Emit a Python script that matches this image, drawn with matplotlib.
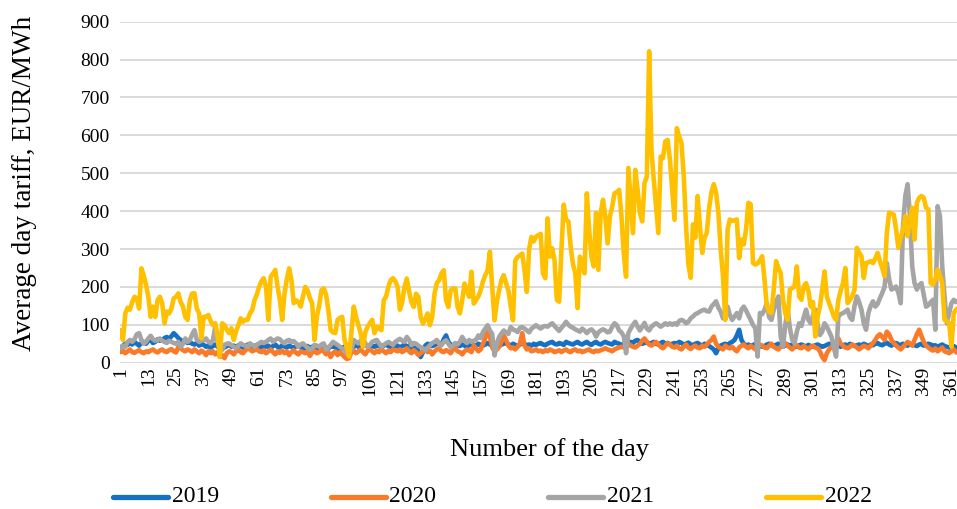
import numpy as np
import matplotlib
matplotlib.use("Agg")
import matplotlib.pyplot as plt
from matplotlib.lines import Line2D

plt.rcParams["font.family"] = ["Liberation Serif", "DejaVu Serif"]

# average day tariff, EUR/MWh, one value per day (rows of 10 days)
y2019 = [
    40, 45, 50, 47, 52, 48, 55, 50, 45, 52,
    55, 50, 58, 60, 52, 55, 62, 58, 60, 65,
    68, 62, 70, 78, 72, 65, 60, 55, 58, 52,
    55, 50, 48, 52, 45, 50, 47, 42, 45, 40,
    44, 48, 42, 38, 45, 40, 44, 48, 42, 45,
    40, 46, 44, 40, 42, 48, 45, 40, 44, 47,
    43, 40, 46, 42, 45, 38, 44, 48, 42, 40,
    46, 43, 40, 45, 42, 38, 44, 47, 42, 36,
    40, 44, 38, 42, 45, 40, 36, 42, 45, 40,
    38, 42, 44, 40, 36, 34, 40, 42, 38, 44,
    40, 42, 46, 42, 38, 44, 47, 43, 40, 45,
    42, 46, 44, 40, 45, 48, 44, 42, 46, 43,
    45, 40, 44, 48, 42, 45, 40, 38, 42, 30,
    15, 28, 45, 50, 48, 44, 46, 50, 52, 48,
    62, 72, 55, 48, 45, 50, 46, 44, 48, 45,
    42, 46, 48, 44, 45, 50, 47, 45, 48, 52,
    48, 45, 50, 46, 44, 48, 50, 52, 48, 45,
    50, 47, 44, 48, 52, 50, 46, 48, 45, 50,
    47, 50, 52, 48, 46, 50, 53, 55, 50, 48,
    52, 50, 47, 55, 52, 50, 48, 52, 55, 50,
    48, 52, 55, 50, 47, 52, 55, 50, 48, 52,
    55, 52, 50, 48, 55, 52, 50, 47, 50, 52,
    50, 55, 52, 58, 60, 55, 50, 52, 55, 50,
    52, 55, 50, 48, 52, 55, 50, 52, 48, 50,
    52, 50, 55, 52, 48, 50, 53, 48, 46, 50,
    52, 48, 45, 50, 47, 44, 40, 35, 25, 38,
    45, 48, 50, 46, 52, 55, 60, 72, 87, 60,
    50, 45, 48, 44, 46, 50, 47, 45, 42, 44,
    48, 50, 46, 44, 47, 50, 45, 42, 46, 48,
    45, 48, 44, 42, 46, 48, 45, 43, 47, 44,
    42, 46, 48, 45, 42, 44, 47, 50, 46, 44,
    48, 45, 42, 46, 48, 45, 50, 47, 44, 46,
    48, 45, 50, 47, 44, 48, 46, 50, 52, 48,
    46, 50, 53, 48, 45, 50, 52, 48, 46, 50,
    47, 45, 50, 48, 46, 44, 48, 50, 45, 47,
    50, 48, 44, 46, 42, 45, 48, 44, 42, 40,
    42, 44, 40, 38, 40,
]

y2020 = [
    28, 32, 25, 30, 35, 28, 26, 30, 33, 28,
    25, 30, 28, 32, 35, 30, 27, 32, 35, 30,
    28, 33, 36, 30, 27, 42, 38, 33, 30, 35,
    32, 28, 35, 30, 25, 32, 28, 20, 30, 25,
    30, 22, 28, 15, 20, 12, 25, 30, 28, 22,
    30, 35, 28, 25, 32, 38, 35, 30, 33, 36,
    30, 28, 33, 25, 30, 35, 28, 22, 30, 26,
    32, 25, 30, 20, 28, 33, 26, 22, 30, 28,
    25, 30, 18, 28, 32, 25, 28, 35, 30, 22,
    28, 15, 25, 30, 20, 28, 22, 15, 10, 12,
    28, 32, 25, 30, 35, 28, 22, 32, 35, 30,
    25, 32, 28, 35, 30, 25, 32, 28, 35, 33,
    30, 35, 28, 32, 38, 30, 25, 33, 28, 20,
    25, 30, 35, 28, 32, 22, 30, 35, 38, 30,
    28, 33, 30, 25, 35, 38, 30, 28, 22, 30,
    35, 32, 28, 45, 38, 30, 35, 50, 65, 95,
    70, 40, 30, 35, 42, 55, 72, 60, 45, 38,
    40, 35, 42, 50, 78, 45, 35, 38, 30, 32,
    35, 30, 32, 28, 33, 30, 35, 32, 28, 30,
    33, 28, 32, 35, 30, 28, 33, 35, 30, 32,
    28, 30, 33, 35, 30, 28, 32, 30, 33, 35,
    38, 35, 33, 30, 35, 38, 40, 42, 40, 45,
    50, 45, 42, 40, 45, 50, 58, 64, 55, 48,
    45, 50, 55, 48, 42, 38, 45, 52, 48, 42,
    40, 45, 38, 35, 42, 48, 40, 36, 42, 45,
    40, 38, 45, 42, 48, 55, 60, 69, 50, 42,
    38, 35, 45, 40, 38, 42, 35, 30, 40, 45,
    48, 42, 38, 45, 40, 35, 42, 48, 45, 40,
    38, 45, 50, 42, 38, 35, 42, 48, 52, 45,
    40, 35, 42, 46, 40, 38, 44, 40, 35, 42,
    45, 40, 38, 30, 15, 7, 25, 35, 42, 48,
    55, 64, 50, 45, 40, 38, 42, 48, 45, 40,
    35, 40, 45, 42, 38, 45, 52, 60, 70, 75,
    68, 60, 82, 75, 60, 52, 45, 40, 35, 42,
    48, 55, 50, 45, 60, 75, 87, 70, 55, 45,
    40, 35, 32, 38, 30, 35, 40, 30, 28, 25,
    30, 35, 28, 25, 30,
]

y2021 = [
    38, 45, 42, 55, 60, 55, 62, 75, 78, 60,
    50, 55, 64, 71, 62, 58, 60, 64, 58, 55,
    52, 58, 55, 52, 50, 55, 42, 50, 64, 55,
    60, 75, 86, 60, 55, 58, 60, 64, 55, 51,
    60, 95, 55, 40, 34, 47, 50, 51, 46, 42,
    38, 45, 51, 47, 45, 42, 51, 47, 42, 47,
    51, 55, 52, 55, 60, 64, 55, 60, 64, 62,
    55, 51, 58, 60, 55, 57, 51, 42, 48, 51,
    45, 40, 34, 38, 47, 45, 42, 48, 51, 34,
    40, 47, 55, 51, 47, 42, 38, 34, 25, 30,
    34, 60, 55, 51, 58, 64, 51, 42, 47, 55,
    58, 60, 51, 42, 47, 51, 55, 51, 47, 55,
    59, 63, 58, 55, 68, 60, 46, 52, 50, 45,
    41, 38, 33, 40, 46, 52, 55, 60, 50, 46,
    55, 59, 50, 41, 45, 52, 48, 55, 68, 58,
    52, 60, 55, 58, 60, 72, 65, 81, 90, 99,
    85, 76, 19, 50, 68, 77, 85, 80, 76, 94,
    88, 85, 81, 92, 94, 90, 85, 80, 90, 94,
    99, 94, 90, 95, 97, 95, 100, 104, 97, 90,
    84, 92, 99, 108, 100, 95, 92, 88, 85, 82,
    90, 85, 78, 85, 88, 82, 69, 80, 85, 88,
    85, 80, 82, 95, 104, 99, 85, 80, 70, 25,
    78, 90, 100, 108, 95, 85, 95, 105, 90, 85,
    95, 100, 104, 100, 95, 99, 104, 100, 104, 100,
    104, 100, 110, 113, 110, 104, 108, 117, 122, 128,
    131, 135, 138, 140, 136, 135, 148, 155, 162, 145,
    135, 117, 130, 148, 125, 113, 122, 131, 117, 140,
    148, 138, 125, 113, 100, 91, 16, 131, 128, 140,
    157, 120, 113, 140, 160, 175, 69, 42, 100, 140,
    91, 60, 51, 82, 104, 97, 120, 140, 113, 104,
    125, 140, 100, 73, 82, 104, 95, 82, 69, 40,
    16, 122, 128, 131, 135, 140, 120, 113, 150, 175,
    160, 140, 104, 87, 131, 150, 162, 148, 155, 170,
    184, 200, 263, 220, 193, 196, 201, 185, 157, 360,
    440, 471, 387, 254, 210, 193, 205, 210, 179, 148,
    152, 160, 166, 87, 413, 387, 254, 175, 104, 130,
    157, 166, 160, 162, 160,
]

y2022 = [
    86, 60, 130, 145, 140, 160, 174, 170, 143, 249,
    230, 205, 174, 121, 148, 121, 165, 174, 157, 104,
    135, 130, 143, 170, 174, 183, 160, 148, 121, 113,
    165, 183, 183, 143, 130, 64, 121, 121, 126, 110,
    99, 104, 69, 16, 104, 99, 86, 78, 91, 60,
    82, 99, 117, 108, 113, 113, 130, 139, 165, 180,
    200, 215, 223, 200, 113, 227, 235, 245, 200, 165,
    113, 183, 220, 249, 218, 157, 165, 160, 148, 175,
    200, 191, 170, 157, 60, 121, 150, 191, 196, 180,
    139, 86, 80, 78, 113, 118, 121, 60, 40, 16,
    80, 148, 121, 100, 78, 42, 80, 95, 105, 113,
    78, 95, 90, 86, 165, 174, 200, 218, 223, 215,
    200, 140, 160, 200, 222, 187, 160, 147, 182, 174,
    121, 103, 115, 130, 99, 121, 182, 210, 218, 235,
    244, 165, 147, 191, 196, 196, 147, 130, 165, 209,
    190, 174, 240, 156, 165, 175, 191, 215, 231, 244,
    293, 200, 112, 160, 191, 218, 231, 210, 191, 150,
    112, 270, 279, 283, 288, 244, 187, 300, 332, 320,
    333, 337, 340, 236, 223, 381, 280, 302, 271, 166,
    161, 300, 417, 377, 373, 306, 260, 236, 144, 280,
    260, 236, 447, 351, 280, 254, 395, 245, 395, 430,
    386, 315, 386, 412, 447, 450, 456, 386, 289, 227,
    514, 430, 342, 509, 456, 395, 373, 474, 491, 822,
    562, 483, 412, 342, 544, 540, 584, 588, 536, 456,
    377, 619, 597, 580, 493, 360, 260, 224, 365, 330,
    440, 360, 290, 330, 343, 409, 450, 471, 449, 396,
    300, 228, 113, 352, 378, 374, 376, 378, 276, 325,
    312, 352, 422, 418, 263, 259, 262, 270, 281, 219,
    148, 135, 131, 193, 268, 250, 237, 166, 130, 113,
    193, 197, 201, 254, 175, 166, 201, 210, 190, 148,
    160, 69, 122, 148, 193, 241, 175, 157, 140, 122,
    113, 166, 190, 210, 250, 157, 166, 175, 193, 303,
    290, 281, 224, 263, 265, 268, 263, 275, 290, 268,
    250, 228, 343, 396, 393, 391, 352, 303, 330, 352,
    387, 334, 375, 409, 325, 422, 435, 440, 435, 409,
    405, 210, 206, 220, 246, 230, 210, 113, 110, 104,
    42, 131, 140, 145, 150,
]

years = ["2019", "2020", "2021", "2022"]
series = [y2019, y2020, y2021, y2022]
colors = ["#1671C4", "#F97B2A", "#A5A5A5", "#FFC000"]
xticks = list(range(1, 366, 12))
yticks = list(range(0, 901, 100))

fig = plt.figure(figsize=(9.57, 5.09), dpi=100)
ax = fig.add_axes([119.5 / 957, 1 - 362.7 / 509, 1 - 119.5 / 957, 341 / 509])

for vals, col, lab in zip(series, colors, years):
    days = np.arange(1, len(vals) + 1)
    ax.plot(days, vals, color=col, lw=3.3, label=lab,
            solid_joinstyle="round", solid_capstyle="round")

ax.set_xlim(0.5, 363.4)
ax.set_ylim(0, 900)
ax.set_yticks(yticks)
ax.set_xticks(xticks)
ax.set_xticklabels([str(t) for t in xticks], rotation=90)
ax.tick_params(axis="both", length=0, labelsize=14)
ax.tick_params(axis="y", pad=7)
ax.tick_params(axis="x", pad=3)
ax.grid(axis="y", color="#D9D9D9", lw=1.4)
ax.set_axisbelow(True)
for s in ax.spines.values():
    s.set_visible(False)

fig.text(25 / 957, 1 - 183 / 509, "Average day tariff, EUR/MWh", rotation=90,
         ha="center", va="center", fontsize=19.5)
fig.text(550 / 957, 1 - 450 / 509, "Number of the day", ha="center",
         va="center", fontsize=19)

# legend along the bottom
leg_y = 1 - 497 / 509
for i, (col, lab) in enumerate(zip(colors, years)):
    x0 = (113 + i * 217.5) / 957
    x1 = (168 + i * 217.5) / 957
    fig.add_artist(Line2D([x0, x1], [leg_y, leg_y], transform=fig.transFigure,
                          color=col, lw=3.8, solid_capstyle="round"))
    fig.text(x1 + 4 / 957, leg_y, lab, ha="left", va="center", fontsize=17)

fig.savefig("out.png", dpi=100)
